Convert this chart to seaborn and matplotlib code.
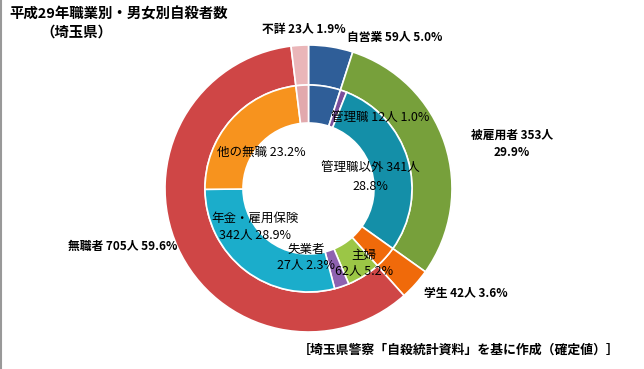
import matplotlib
matplotlib.use("Agg")
import matplotlib.pyplot as plt
import seaborn as sns

# outer ring: occupation groups
outer_labels = ["自営業", "被雇用者", "学生", "無職者", "不詳"]
outer_values = [59, 353, 42, 705, 23]
outer_pct = [5.0, 29.9, 3.6, 59.6, 1.9]
outer_colors = ["#2F5E98", "#77A03B", "#F06A0A", "#CF4646", "#EAB6B9"]

# inner ring: breakdown
inner_labels = ["自営業", "管理職", "管理職以外", "学生", "主婦", "失業者",
                "年金・雇用保険", "他の無職", "不詳"]
inner_values = [59, 12, 341, 42, 62, 27, 342, 274, 23]
inner_pct = [5.0, 1.0, 28.8, 3.6, 5.2, 2.3, 28.9, 23.2, 1.9]
inner_colors = ["#2F5E98", "#7B4F9B", "#148FA8", "#F06A0A", "#9BC646",
                "#8E62B0", "#1BADCB", "#F7931E", "#E2A9AD"]

sns.set_theme(style="white")
plt.rcParams['font.family'] = ['Noto Sans CJK JP', 'DejaVu Sans']

fig = plt.figure(figsize=(6.44, 3.69), dpi=100)
ax = fig.add_axes([0, 0, 1, 1])
H = 369
cx, cy = 308.5, H - 188.5

wp = dict(edgecolor="white", linewidth=1.2)
ax.pie(outer_values, colors=outer_colors, startangle=90, counterclock=False,
       center=(cx, cy), radius=143.5, wedgeprops=dict(width=40, **wp))
ax.pie(inner_values, colors=inner_colors, startangle=90, counterclock=False,
       center=(cx, cy), radius=103.5, wedgeprops=dict(width=38, **wp))
ax.set_xlim(0, 644)
ax.set_ylim(0, H)
ax.set_aspect("equal")
ax.axis("off")

def t(x, y, s, ha="left", size=9, bold=False):
    ax.text(x, H - y, s, ha=ha, va="center", fontsize=size,
            fontweight="bold" if bold else "normal", color="black")

# title
t(9, 14, "平成29年職業別・男女別自殺者数", size=10.4, bold=True)
t(40, 33, "（埼玉県）", size=10.4, bold=True)

# outer labels
t(262, 30, f"{outer_labels[4]} {outer_values[4]}人 {outer_pct[4]}%", size=8.5, bold=True)
t(347, 37, f"{outer_labels[0]} {outer_values[0]}人 {outer_pct[0]}%", size=8.5, bold=True)
t(512, 135, f"{outer_labels[1]} {outer_values[1]}人", ha="center", size=8.5, bold=True)
t(512, 152, f"{outer_pct[1]}%", ha="center", size=8.5, bold=True)
t(424, 293, f"{outer_labels[2]} {outer_values[2]}人 {outer_pct[2]}%", size=8.5, bold=True)
t(177, 246, f"{outer_labels[3]} {outer_values[3]}人 {outer_pct[3]}%", ha="right", size=8.5, bold=True)

# inner labels
t(331, 118, f"{inner_labels[1]} {inner_values[1]}人 {inner_pct[1]}%")
t(370, 168, f"{inner_labels[2]} {inner_values[2]}人", ha="center")
t(370, 186, f"{inner_pct[2]}%", ha="center")
t(217, 152, f"{inner_labels[7]} {inner_pct[7]}%")
t(255, 218, inner_labels[6], ha="center")
t(255, 236, f"{inner_values[6]}人 {inner_pct[6]}%", ha="center")
t(306, 249, inner_labels[5], ha="center")
t(306, 266, f"{inner_values[5]}人 {inner_pct[5]}%", ha="center")
t(364, 255, inner_labels[4], ha="center")
t(335, 272, f"{inner_values[4]}人 {inner_pct[4]}%")

# source note
t(298, 350, "［埼玉県警察「自殺統計資料」を基に作成（確定値）］", size=9.3, bold=True)

fig.add_artist(plt.Line2D([0.001, 0.001], [0, 1], color="#999999", linewidth=1.5,
                          transform=fig.transFigure))

fig.savefig("out.png", dpi=100)
